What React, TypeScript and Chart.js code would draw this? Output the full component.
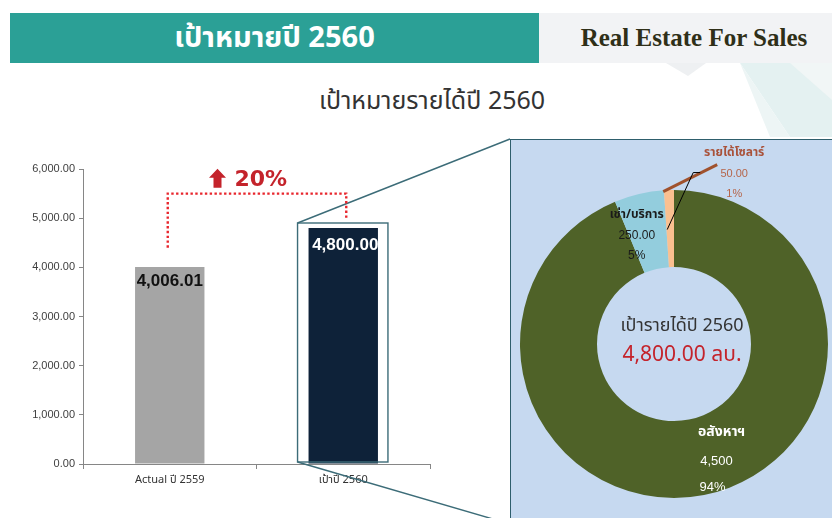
import { useEffect, useRef } from 'react';
import { Chart, registerables } from 'chart.js';

Chart.register(...registerables);

// ---------------- data ----------------
const categories = ['Actual ปี 2559', 'เป้าปี 2560'];
const revenueValues = [4006.01, 4800.0];
const revenueLabels = ['4,006.01', '4,800.00'];
const yAxisMax = 6000;
const yAxisStep = 1000;
const growthText = '20%';
// growth bracket levels (value units): start above actual, bridge level, end above target
const growthLevels = [4400, 5500, 5000];
const growthTextLevel = 5800;

const segmentNames = ['อสังหาฯ', 'เช่า/บริการ', 'รายได้โซลาร์'];
const segmentValues = [4500, 250, 50];
const segmentValueText = ['4,500', '250.00', '50.00'];
const segmentShareText = ['94%', '5%', '1%'];
const centerCaption = 'เป้ารายได้ปี 2560';
const centerValue = '4,800.00 ลบ.';

const headerTitle = 'เป้าหมายปี 2560';
const headerBrand = 'Real Estate For Sales';
const chartTitle = 'เป้าหมายรายได้ปี 2560';

// ---------------- styles / layout ----------------
const THAI = '"Noto Sans Thai", "Noto Sans", "DejaVu Sans", sans-serif';
const SANS = '"Liberation Sans", Arial, sans-serif';
const PANEL = { left: 510, top: 139, width: 340, height: 385 };
const BAR_COLORS = ['#A5A5A5', '#0E2239'];
const SEG_COLORS = ['#4F6228', '#93CDDD', '#FAC090'];
const RED = '#C4232B';

const barOverlay = {
  id: 'barOverlay',
  afterDatasetsDraw(chart: any) {
    const ctx = chart.ctx as CanvasRenderingContext2D;
    const ys = chart.scales.y;
    const bars = chart.getDatasetMeta(0).data;
    const base = ys.getPixelForValue(0);
    ctx.save();

    // value labels inside bars
    const dy = [14, 17];
    bars.forEach((b: any, i: number) => {
      const p = b.getProps(['x', 'y', 'width'], true);
      ctx.font = `bold 17px ${SANS}`;
      ctx.fillStyle = i === 0 ? '#111111' : '#ffffff';
      ctx.textAlign = 'center';
      ctx.textBaseline = 'middle';
      ctx.fillText(revenueLabels[i], p.x + (i === 0 ? 0 : 2), p.y + dy[i]);
    });

    // box around target bar + zoom lines to the panel
    const t = bars[1].getProps(['x', 'y', 'width'], true);
    const bl = t.x - t.width / 2 - 11;
    const br = t.x + t.width / 2 + 10;
    const bt = t.y - 5;
    const bb = base - 2;
    ctx.strokeStyle = '#3C6C78';
    ctx.lineWidth = 1.4;
    ctx.strokeRect(bl, bt, br - bl, bb - bt);
    ctx.beginPath();
    ctx.moveTo(bl, bt);
    ctx.lineTo(PANEL.left, PANEL.top);
    ctx.moveTo(bl, bb);
    ctx.lineTo(PANEL.left, PANEL.top + PANEL.height);
    ctx.stroke();

    // dotted growth bracket
    const a = bars[0].getProps(['x'], true);
    const x0 = a.x - 2;
    const x1 = t.x + 3;
    ctx.strokeStyle = '#E8262D';
    ctx.lineWidth = 2.4;
    ctx.setLineDash([2.4, 2.4]);
    ctx.beginPath();
    ctx.moveTo(x0, ys.getPixelForValue(growthLevels[0]));
    ctx.lineTo(x0, ys.getPixelForValue(growthLevels[1]));
    ctx.lineTo(x1, ys.getPixelForValue(growthLevels[1]));
    ctx.lineTo(x1, ys.getPixelForValue(growthLevels[2]));
    ctx.stroke();
    ctx.setLineDash([]);

    // arrow + percentage
    const mid = (a.x + t.x) / 2;
    const ty = ys.getPixelForValue(growthTextLevel);
    const ax = mid - 39;
    ctx.fillStyle = RED;
    ctx.beginPath();
    ctx.moveTo(ax, ty - 10);
    ctx.lineTo(ax + 8.5, ty - 1);
    ctx.lineTo(ax + 4, ty - 1);
    ctx.lineTo(ax + 4, ty + 9);
    ctx.lineTo(ax - 4, ty + 9);
    ctx.lineTo(ax - 4, ty - 1);
    ctx.lineTo(ax - 8.5, ty - 1);
    ctx.closePath();
    ctx.fill();
    ctx.font = `bold 22px "DejaVu Sans", sans-serif`;
    ctx.textAlign = 'left';
    ctx.textBaseline = 'middle';
    ctx.fillText(growthText, mid - 22, ty + 1);
    ctx.restore();
  },
};

const donutOverlay = {
  id: 'donutOverlay',
  afterDatasetsDraw(chart: any) {
    const ctx = chart.ctx as CanvasRenderingContext2D;
    const arcs = chart.getDatasetMeta(0).data;
    ctx.save();
    ctx.textAlign = 'center';
    ctx.textBaseline = 'middle';

    // main segment (white labels)
    const g = arcs[0].tooltipPosition(true);
    ctx.fillStyle = '#ffffff';
    ctx.font = `bold 14px ${THAI}`;
    ctx.fillText(segmentNames[0], g.x + 25, g.y - 24);
    ctx.font = `13px ${SANS}`;
    ctx.fillText(segmentValueText[0], g.x + 20, g.y + 4);
    ctx.fillText(segmentShareText[0], g.x + 16, g.y + 30);

    // second segment (dark labels)
    const b = arcs[1].tooltipPosition(true);
    ctx.fillStyle = '#1A1A1A';
    ctx.font = `bold 12px ${THAI}`;
    ctx.fillText(segmentNames[1], b.x - 11, b.y - 16);
    ctx.font = `12px ${SANS}`;
    ctx.fillText(segmentValueText[1], b.x - 11, b.y + 4);
    ctx.fillText(segmentShareText[1], b.x - 11, b.y + 24);

    // third segment (callout)
    const s = arcs[2].tooltipPosition(true);
    ctx.strokeStyle = '#A0522D';
    ctx.lineWidth = 3;
    ctx.beginPath();
    ctx.moveTo(s.x - 7, s.y - 37);
    ctx.lineTo(s.x + 47, s.y - 64);
    ctx.stroke();
    ctx.strokeStyle = '#000000';
    ctx.lineWidth = 1;
    ctx.beginPath();
    ctx.moveTo(s.x - 3, s.y + 1);
    ctx.lineTo(s.x + 23, s.y - 56);
    ctx.lineTo(s.x + 30, s.y - 56);
    ctx.stroke();
    ctx.fillStyle = '#A9523A';
    ctx.font = `bold 12px ${THAI}`;
    ctx.fillText(segmentNames[2], s.x + 64, s.y - 75);
    ctx.fillStyle = '#B5654A';
    ctx.font = `11px ${SANS}`;
    ctx.fillText(segmentValueText[2], s.x + 64, s.y - 55);
    ctx.fillText(segmentShareText[2], s.x + 64, s.y - 35);

    // center text
    const c = arcs[0].getProps(['x', 'y'], true);
    ctx.fillStyle = '#333333';
    ctx.font = `18px ${THAI}`;
    ctx.fillText(centerCaption, c.x + 8, c.y - 17);
    ctx.fillStyle = RED;
    ctx.font = `21px ${THAI}`;
    ctx.fillText(centerValue, c.x + 8, c.y + 13);
    ctx.restore();
  },
};

export default function App() {
  const barRef = useRef<HTMLCanvasElement>(null);
  const pieRef = useRef<HTMLCanvasElement>(null);

  useEffect(() => {
    const bar = new Chart(barRef.current as HTMLCanvasElement, {
      type: 'bar',
      data: {
        labels: categories,
        datasets: [
          {
            data: revenueValues,
            backgroundColor: BAR_COLORS,
            borderWidth: 0,
            barPercentage: 0.4,
            categoryPercentage: 1,
          },
        ],
      },
      options: {
        responsive: false,
        animation: false,
        events: [],
        layout: { padding: { left: 0, top: 169, right: 402, bottom: 0 } },
        plugins: { legend: { display: false }, tooltip: { enabled: false } },
        scales: {
          x: {
            offset: true,
            afterFit: (s: any) => {
              s.height = 54;
            },
            grid: { offset: true, drawOnChartArea: false, tickLength: 5, color: '#868686' },
            border: { display: true, color: '#868686' },
            ticks: { color: '#333333', font: { size: 11, family: THAI }, padding: 5 },
          },
          y: {
            min: 0,
            max: yAxisMax,
            afterFit: (s: any) => {
              s.width = 83;
            },
            grid: { drawOnChartArea: false, tickLength: 4, color: '#868686' },
            border: { display: true, color: '#868686' },
            ticks: {
              stepSize: yAxisStep,
              padding: 4,
              color: '#404040',
              font: { size: 11, family: SANS },
              callback: (v: any) =>
                Number(v).toLocaleString('en-US', { minimumFractionDigits: 2, maximumFractionDigits: 2 }),
            },
          },
        },
      },
      plugins: [barOverlay],
    });

    const pie = new Chart(pieRef.current as HTMLCanvasElement, {
      type: 'doughnut',
      data: {
        labels: segmentNames,
        datasets: [{ data: segmentValues, backgroundColor: SEG_COLORS, borderWidth: 0, hoverOffset: 0 }],
      },
      options: {
        responsive: false,
        animation: false,
        events: [],
        cutout: '50%',
        layout: { padding: { left: 10, right: 4, top: 51, bottom: 20 } },
        plugins: { legend: { display: false }, tooltip: { enabled: false } },
      },
      plugins: [donutOverlay],
    });

    return () => {
      bar.destroy();
      pie.destroy();
    };
  }, []);

  return (
    <div
      style={{
        position: 'absolute',
        left: 0,
        top: 0,
        width: 832,
        height: 518,
        overflow: 'hidden',
        background: '#ffffff',
      }}
    >
      <svg width={832} height={518} style={{ position: 'absolute', left: 0, top: 0 }}>
        <polygon points="666,63 706,63 688,76" fill="#EEF0F2" />
        <polygon points="740,63 832,63 832,137 790,137" fill="#E4F1F1" />
        <polygon points="790,63 832,63 832,100" fill="#F1F6F6" />
        <polygon points="740,63 790,137 770,137" fill="#EDF5F5" />
      </svg>
      <div
        style={{
          position: 'absolute',
          left: 10,
          top: 13,
          width: 529,
          height: 50,
          background: '#2BA096',
          color: '#ffffff',
          font: `bold 29px ${THAI}`,
          display: 'flex',
          alignItems: 'center',
          justifyContent: 'center',
        }}
      >
        {headerTitle}
      </div>
      <div
        style={{
          position: 'absolute',
          left: 539,
          top: 13,
          width: 293,
          height: 50,
          boxSizing: 'border-box',
          paddingLeft: 17,
          background: '#F2F3F5',
          color: '#2F2F18',
          font: 'bold 25px "Liberation Serif", serif',
          display: 'flex',
          alignItems: 'center',
          justifyContent: 'center',
        }}
      >
        {headerBrand}
      </div>
      <div
        style={{
          position: 'absolute',
          left: 232,
          top: 86,
          width: 400,
          height: 30,
          textAlign: 'center',
          color: '#333333',
          font: `25px ${THAI}`,
          lineHeight: '30px',
        }}
      >
        {chartTitle}
      </div>
      <canvas
        ref={barRef}
        width={832}
        height={518}
        style={{ position: 'absolute', left: 0, top: 0, width: 832, height: 518 }}
      />
      <div
        style={{
          position: 'absolute',
          left: PANEL.left,
          top: PANEL.top,
          width: PANEL.width,
          height: PANEL.height,
          boxSizing: 'border-box',
          background: '#C6D9F0',
          borderTop: '1.5px solid #2E5E6C',
          borderLeft: '1.5px solid #2E5E6C',
        }}
      />
      <canvas
        ref={pieRef}
        width={322}
        height={379}
        style={{ position: 'absolute', left: PANEL.left, top: PANEL.top, width: 322, height: 379 }}
      />
    </div>
  );
}
